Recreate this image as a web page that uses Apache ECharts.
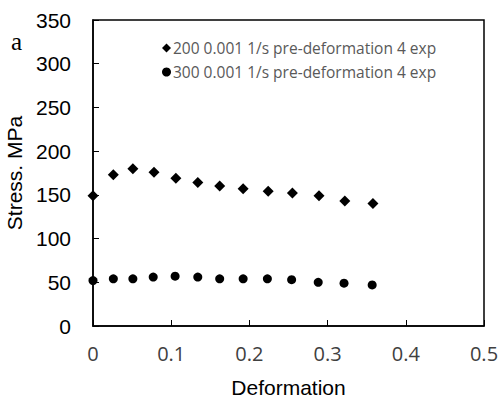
<!DOCTYPE html>
<html>
<head>
<meta charset="utf-8">
<script src="https://cdn.jsdelivr.net/npm/echarts@6/dist/echarts.min.js"></script>
<style>
  html, body { margin: 0; padding: 0; background: #fff; }
  #chart { width: 499px; height: 401px; }
</style>
</head>
<body>
<div id="chart"></div>
<script>
var xTicks = [0, 0.1, 0.2, 0.3, 0.4, 0.5];
var yTicks = [0, 50, 100, 150, 200, 250, 300, 350];

var seriesNames = [
  '200 0.001 1/s pre-deformation 4 exp',
  '300 0.001 1/s pre-deformation 4 exp'
];

var deform200 = [0, 0.026, 0.051, 0.078, 0.106, 0.134, 0.162, 0.192, 0.224, 0.255, 0.289, 0.322, 0.358];
var stress200 = [149, 173, 180, 176, 169, 164, 160, 157, 154, 152, 149, 143, 140];

var deform300 = [0, 0.026, 0.051, 0.077, 0.105, 0.134, 0.162, 0.192, 0.223, 0.254, 0.288, 0.321, 0.357];
var stress300 = [52, 54, 54, 56, 57, 56, 54, 54, 54, 53, 50, 49, 47];

function pairs(xs, ys) {
  return xs.map(function(x, i) { return [x, ys[i]]; });
}

var chart = echarts.init(document.getElementById('chart'), null, { renderer: 'svg' });

var option = {
  animation: false,
  title: {
    text: 'a',
    left: 6,
    top: 24,
    textStyle: { color: '#000', fontSize: 25, fontWeight: 'normal', fontFamily: 'Liberation Serif' }
  },
  grid: {
    left: 93,
    right: 15,
    top: 20,
    bottom: 75,
    containLabel: false,
    outerBoundsMode: 'none',
    show: true,
    borderColor: '#000',
    borderWidth: 1.5,
    backgroundColor: 'transparent'
  },
  legend: {
    orient: 'vertical',
    left: 157,
    top: 35,
    itemGap: 8,
    itemWidth: 9,
    itemHeight: 9,
    data: [
      { name: seriesNames[0], icon: 'diamond' },
      { name: seriesNames[1], icon: 'circle' }
    ],
    textStyle: { color: '#595959', fontSize: 15.5, fontFamily: 'Open Sans', padding: [0, 0, 0, -3] }
  },
  xAxis: {
    type: 'value',
    min: 0,
    max: 0.5,
    interval: 0.1,
    name: 'Deformation',
    nameLocation: 'middle',
    nameGap: 51,
    nameTextStyle: { color: '#000', fontSize: 21, fontFamily: 'Liberation Sans' },
    axisLine: { show: true, lineStyle: { color: '#000', width: 1.5 } },
    axisTick: { show: true, inside: true, length: 6, lineStyle: { color: '#000' } },
    axisLabel: {
      color: '#404040', fontSize: 20, fontFamily: 'Open Sans', margin: 17,
      formatter: function(v) { return String(Math.round(v * 10) / 10); }
    },
    splitLine: { show: false }
  },
  yAxis: {
    type: 'value',
    min: 0,
    max: 350,
    interval: 50,
    name: 'Stress. MPa',
    nameLocation: 'middle',
    nameRotate: 90,
    nameGap: 66,
    nameTextStyle: { color: '#000', fontSize: 21, fontFamily: 'Liberation Sans' },
    axisLine: { show: true, lineStyle: { color: '#000', width: 1.5 } },
    axisTick: { show: true, inside: true, length: 6, lineStyle: { color: '#000' } },
    axisLabel: { color: '#000', fontSize: 21, fontFamily: 'Liberation Sans', margin: 22 },
    splitLine: { show: false }
  },
  series: [
    {
      name: seriesNames[0],
      type: 'scatter',
      symbol: 'diamond',
      symbolSize: 11,
      itemStyle: { color: '#000', opacity: 1 },
      data: pairs(deform200, stress200)
    },
    {
      name: seriesNames[1],
      type: 'scatter',
      symbol: 'circle',
      symbolSize: 9,
      itemStyle: { color: '#000', opacity: 1 },
      data: pairs(deform300, stress300)
    }
  ]
};

chart.setOption(option);
</script>
</body>
</html>
